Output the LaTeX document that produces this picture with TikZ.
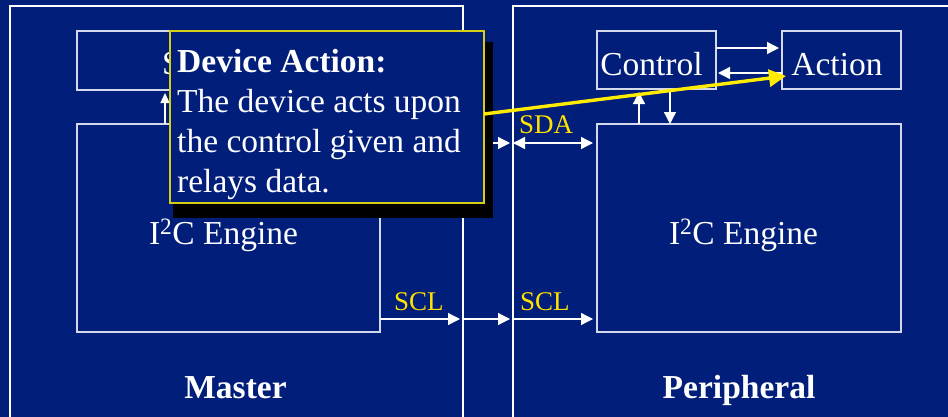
\documentclass[tikz,border=0pt]{standalone}
\usepackage{fontspec}
\setmainfont{Liberation Serif}
\usetikzlibrary{arrows.meta}
\definecolor{navy}{RGB}{0,30,122}
\definecolor{boxline}{RGB}{212,218,236}
\definecolor{sigyellow}{RGB}{255,226,0}
\definecolor{pointer}{RGB}{255,236,0}
\definecolor{calloutrim}{RGB}{214,206,20}
\tikzset{
  frame/.style={draw=white, line width=2.6pt, inner sep=0pt, outer sep=0pt},
  blockbox/.style={draw=boxline, line width=1.3pt, inner sep=0pt, outer sep=0pt},
  wire/.style={draw=white, line width=1.3pt, -{Triangle[length=12pt,width=12pt]}},
  smallwire/.style={draw=white, line width=1.3pt, -{Triangle[length=10pt,width=9pt]}},
  duplex/.style={draw=white, line width=1.3pt, {Triangle[length=12pt,width=12pt]}-{Triangle[length=12pt,width=12pt]}},
  bigtext/.style={text=white, inner sep=0pt, font=\fontsize{33.5}{40}\selectfont},
  sigtext/.style={text=sigyellow, inner sep=0pt, anchor=base west, font=\fontsize{27}{32}\selectfont},
  calloutbox/.style={fill=navy, draw=calloutrim, line width=1.2pt, inner sep=0pt, outer sep=0pt},
}
\begin{document}
\begin{tikzpicture}[x=1pt, y=-1pt]
\useasboundingbox (0,0) rectangle (948,416);
\clip (0,0) rectangle (948,416);
\fill[navy] (-5,-5) rectangle (953,421);

% the two devices
\node[frame, minimum width=453, minimum height=430] (mout) at (236.5,221) {};
\node[frame, minimum width=460, minimum height=430] (pout) at (743,221) {};

% master blocks
\node[blockbox, minimum width=303, minimum height=59] (mtop) at (228.5,60.5) {};
\node[bigtext, anchor=base west] (mtoptext) at (162,74) {S};
\node[blockbox, minimum width=303, minimum height=208] (meng) at (228.5,228) {};
\node[bigtext, anchor=base] (mengtext) at (223.5,244) {I\textsuperscript{2}C Engine};
\node[bigtext, anchor=base, font=\fontsize{33.5}{40}\selectfont\bfseries] (mlabel) at (235.5,398) {Master};

% peripheral blocks
\node[blockbox, minimum width=119, minimum height=58] (ctrl) at (656.5,60) {};
\node[bigtext, anchor=base] (ctrltext) at (651.5,75) {Control};
\node[blockbox, minimum width=119, minimum height=58] (act) at (841.5,60) {};
\node[bigtext, anchor=base] (acttext) at (837,75) {Action};
\node[blockbox, minimum width=304, minimum height=208] (peng) at (749,228) {};
\node[bigtext, anchor=base] (pengtext) at (743.5,244) {I\textsuperscript{2}C Engine};
\node[bigtext, anchor=base, font=\fontsize{33.5}{40}\selectfont\bfseries] (plabel) at (739,398) {Peripheral};

% signal levels and stem positions
\coordinate (yA) at (0,48);
\coordinate (yB) at (0,73);
\coordinate (ySDA) at (0,143);
\coordinate (ySCL) at (0,319);
\coordinate (xM) at (165,0);
\coordinate (xU) at (639,0);
\coordinate (xD) at (670,0);

% master internal arrow
\draw[smallwire, shorten >=3pt] (meng.north -| xM) -- (mtop.south -| xM);

% peripheral internal arrows
\draw[wire, shorten >=3pt] (ctrl.east |- yA) -- (act.west |- yA);
\draw[wire, shorten >=2pt] (act.west |- yB) -- (ctrl.east |- yB);
\draw[wire, shorten >=3pt] (peng.north -| xU) -- (ctrl.south -| xU);
\draw[wire] (ctrl.south -| xD) -- (peng.north -| xD);

% SDA
\draw[duplex, shorten >=3pt] (meng.east |- ySDA) -- (mout.east |- ySDA);
\draw[duplex, shorten >=3pt] (mout.east |- ySDA) -- (pout.west |- ySDA);
\draw[duplex, shorten >=4pt] (pout.west |- ySDA) -- (peng.west |- ySDA);
\node[sigtext] (sdalabel) at (519,133) {SDA};

% SCL
\draw[wire, shorten >=3pt] (meng.east |- ySCL) -- (mout.east |- ySCL);
\draw[wire, shorten >=3pt] (mout.east |- ySCL) -- (pout.west |- ySCL);
\draw[wire, shorten >=4pt] (pout.west |- ySCL) -- (peng.west |- ySCL);
\node[sigtext] (scllabelm) at (394,310) {SCL};
\node[sigtext] (scllabelp) at (520,310) {SCL};

% callout with drop shadow
\fill[black] (173,42) rectangle (493,218);
\node[calloutbox, minimum width=314, minimum height=172] (callout) at (327,117) {};
\node[bigtext, anchor=base west, font=\fontsize{33.5}{40}\selectfont\bfseries] (ctitle) at (177,72) {Device Action:};
\node[bigtext, anchor=base west] (cline1) at (177,112) {The device acts upon};
\node[bigtext, anchor=base west] (cline2) at (177,152) {the control given and};
\node[bigtext, anchor=base west] (cline3) at (177,192) {relays data.};

% pointer to the action block
\coordinate (ystart) at (0,114);
\coordinate (ptip) at (786,76);
\draw[pointer, line width=3.4pt, -{Triangle[length=17pt,width=17pt]}] (callout.east |- ystart) -- (ptip);
\end{tikzpicture}
\end{document}
